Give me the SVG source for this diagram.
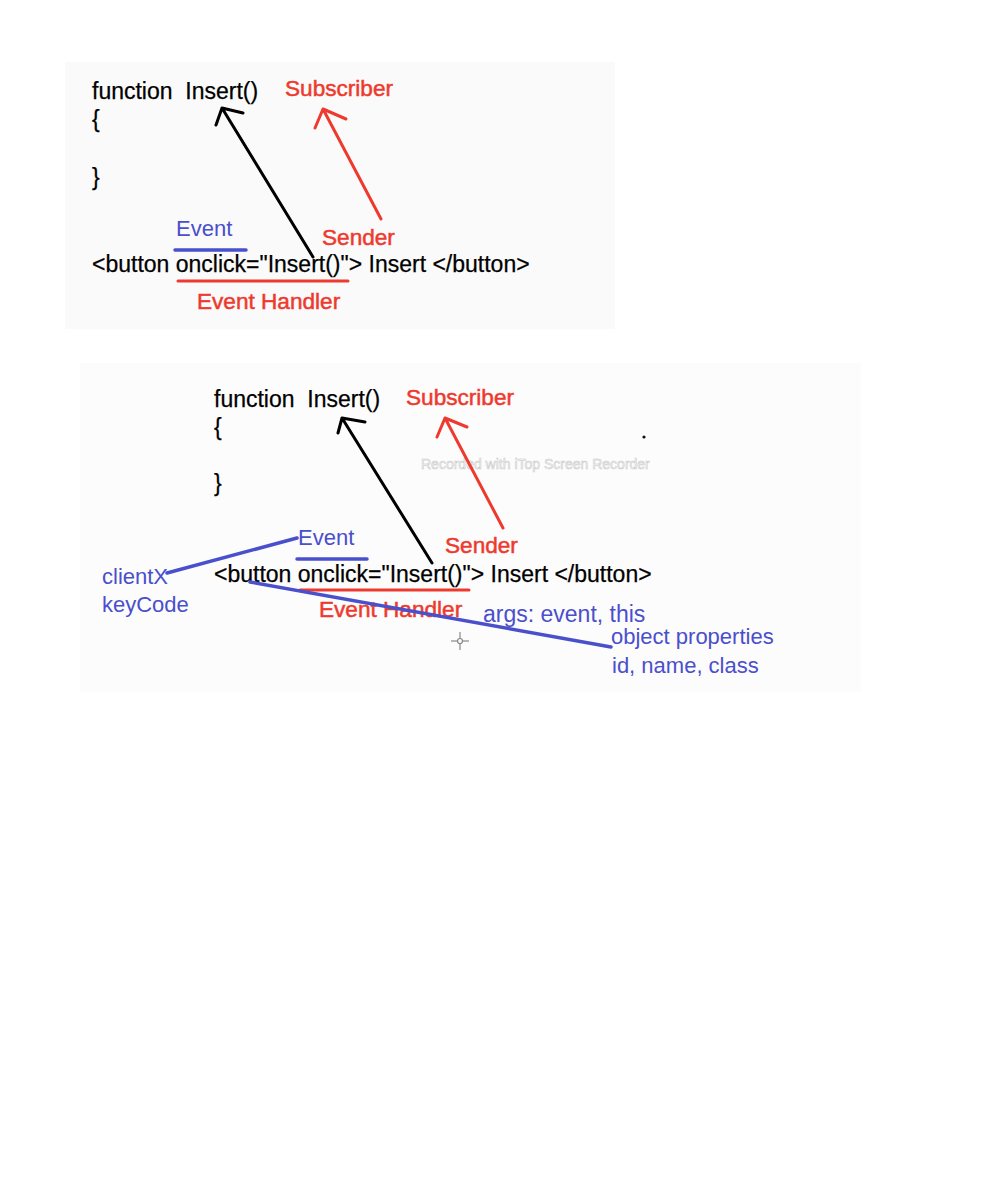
<svg xmlns="http://www.w3.org/2000/svg" width="1000" height="1184" viewBox="0 0 1000 1184">
<style>
  text { font-family: "Liberation Sans", Arial, sans-serif; }
  .code { font-size: 23px; fill: #000; stroke: #000; stroke-width: 0.25; }
  .red { font-size: 22.6px; fill: #ee3a2e; stroke: #ee3a2e; stroke-width: 0.5; }
  .blue { font-size: 22px; fill: #4a4fcc; }
  .blk { stroke: #000; stroke-width: 3; fill: none; stroke-linecap: round; stroke-linejoin: round; }
  .rln { stroke: #ee3a2e; stroke-width: 3; fill: none; stroke-linecap: round; stroke-linejoin: round; }
  .bln { stroke: #4a4fcc; stroke-width: 3.5; fill: none; stroke-linecap: round; }
  .wm { font-size: 14px; fill: #f4f4f4; stroke: #c8c8c8; stroke-width: 0.5; }
</style>
<rect x="0" y="0" width="1000" height="1184" fill="#ffffff"/>

<g id="panel-top">
  <rect x="65" y="62" width="550" height="267" fill="#fafafa"/>
  <g id="top-code">
    <text class="code" x="92" y="99" xml:space="preserve">function  Insert()</text>
    <text class="code" x="92" y="127">{</text>
    <text class="code" x="92" y="185">}</text>
    <text class="code" x="92" y="272">&lt;button onclick="Insert()"&gt; Insert &lt;/button&gt;</text>
  </g>
  <g id="top-subscriber"><text class="red" x="285" y="96">Subscriber</text></g>
  <g id="top-sender"><text class="red" x="322" y="245">Sender</text></g>
  <g id="top-event"><text class="blue" x="176" y="236">Event</text></g>
  <g id="top-handler"><text class="red" x="197" y="309">Event Handler</text></g>
</g>

<g id="panel-bottom">
  <rect x="80" y="363" width="781" height="329" fill="#fcfcfc"/>
  <g id="bottom-code">
    <text class="code" x="214" y="407" xml:space="preserve">function  Insert()</text>
    <text class="code" x="214" y="435">{</text>
    <text class="code" x="214" y="491">}</text>
    <text class="code" x="214" y="582">&lt;button onclick="Insert()"&gt; Insert &lt;/button&gt;</text>
  </g>
  <g id="bottom-subscriber"><text class="red" x="406" y="405">Subscriber</text></g>
  <g id="bottom-sender"><text class="red" x="445" y="553">Sender</text></g>
  <g id="bottom-event"><text class="blue" x="298" y="545">Event</text></g>
  <g id="bottom-handler"><text class="red" x="319" y="617">Event Handler</text></g>
  <g id="bottom-clientx"><text class="blue" x="102" y="584">clientX</text><text class="blue" x="102" y="612">keyCode</text></g>
  <g id="bottom-args"><text class="blue" x="483" y="622" style="font-size:23px">args: event, this</text></g>
  <g id="bottom-props"><text class="blue" x="611" y="644">object properties</text><text class="blue" x="612" y="673">id, name, class</text></g>
  <text class="wm" x="421" y="469">Recorded with iTop Screen Recorder</text>
  <circle cx="644" cy="437" r="1.6" fill="#111"/>
  <g id="cursor" stroke="#888" stroke-width="1.2" fill="none">
    <line x1="460" y1="632" x2="460" y2="650"/>
    <line x1="451" y1="641" x2="469" y2="641"/>
    <circle cx="460" cy="641" r="2.5" fill="#fcfcfc"/>
  </g>
</g>

<g id="connectors">
  <!-- top -->
  <path class="blk" d="M313 257 L222 108 M216 125 L222 108 L243 113"/>
  <path class="rln" d="M381 219 L323 109 M315 128 L323 109 L346 119"/>
  <line class="bln" x1="175" y1="250" x2="246" y2="250"/>
  <line class="rln" x1="178" y1="281" x2="348" y2="281"/>
  <!-- bottom -->
  <path class="blk" d="M432 563 L342 418 M338 433 L342 418 L365 422"/>
  <path class="rln" d="M503 528 L445 418 M437 437 L445 418 L467 427"/>
  <line class="bln" x1="297" y1="559" x2="367" y2="559"/>
  <line class="rln" x1="300" y1="590" x2="469" y2="590"/>
  <line class="bln" x1="167" y1="573" x2="297" y2="538"/>
  <line class="bln" x1="250" y1="582" x2="611" y2="647"/>
</g>
</svg>
